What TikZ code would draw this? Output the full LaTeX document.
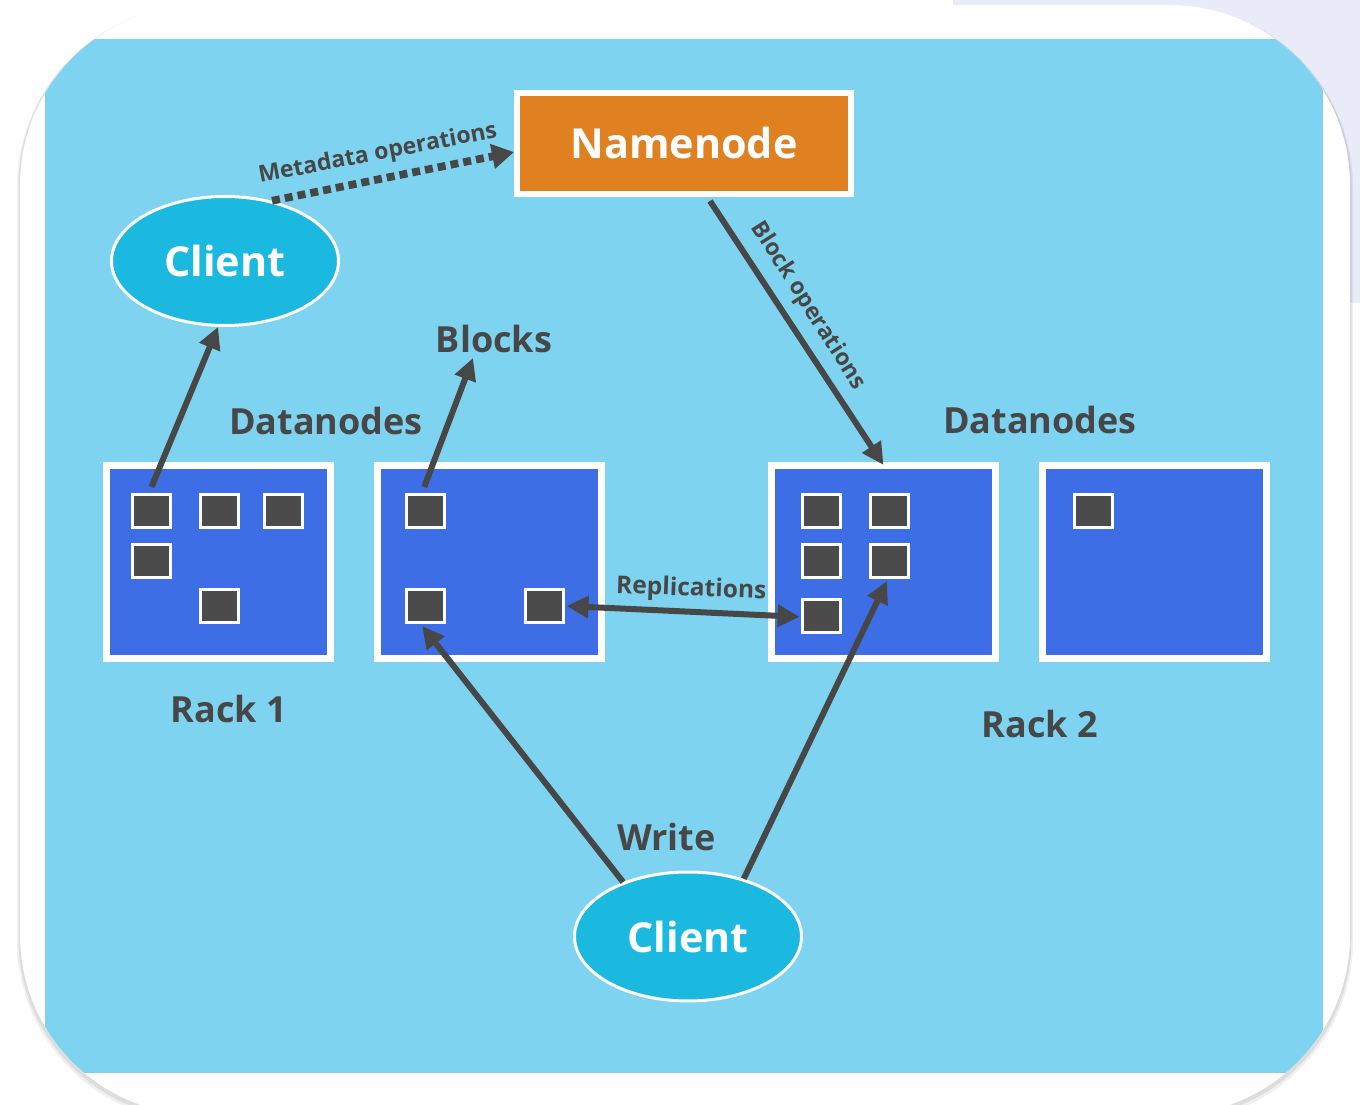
\documentclass[tikz,border=0pt]{standalone}
\usepackage{fontspec}
\setmainfont{Open Sans}
\usetikzlibrary{arrows.meta,shapes.geometric}
\definecolor{bgblue}{HTML}{7ED4F0}
\definecolor{dnblue}{HTML}{3D6EE6}
\definecolor{nnorange}{HTML}{DF8120}
\definecolor{clblue}{HTML}{1BB9E0}
\definecolor{blkgray}{HTML}{4B4B4B}
\definecolor{ink}{HTML}{474747}
\definecolor{lav}{HTML}{EAEBF8}
\begin{document}
\begin{tikzpicture}[x=0.75pt,y=-0.75pt,
  dnbox/.style={draw=white, line width=5.25pt, fill=dnblue, minimum width=168pt, minimum height=144.75pt, inner sep=0pt},
  blockbox/.style={draw=white, line width=2.25pt, fill=blkgray, minimum width=28.5pt, minimum height=24.75pt, inner sep=0pt},
  client/.style={ellipse, draw=white, line width=2.25pt, fill=clblue, minimum width=170.25pt, minimum height=96.75pt, inner sep=0pt, text=white, font=\fontsize{31}{31}\selectfont\bfseries},
  namebox/.style={draw=white, line width=4.5pt, fill=nnorange, minimum width=250.5pt, minimum height=75.75pt, inner sep=0pt, text=white, font=\fontsize{31}{31}\selectfont\bfseries},
  title/.style={text=ink, font=\fontsize{27}{27}\selectfont\bfseries, inner sep=0pt},
  small/.style={text=ink, font=\fontsize{17.3}{17.3}\selectfont\bfseries, inner sep=0pt},
  conn/.style={draw=ink, line width=4.5pt, -{Triangle[length=16.5pt,width=16pt]}},
  dblconn/.style={draw=ink, line width=4.5pt, {Triangle[length=16.5pt,width=16pt]}-{Triangle[length=16.5pt,width=16pt]}},
  dotconn/.style={draw=ink, line width=5.8pt, dash pattern=on 6pt off 3.75pt, -{Triangle[length=16.5pt,width=18pt]}},
]
\useasboundingbox (0,0) rectangle (1360,1105);
% page background
\fill[white] (0,0) rectangle (1360,1105);
\fill[lav] (953,0) rectangle (1360,303);
% card with soft shadow
\fill[black, opacity=0.06, rounded corners=136pt] (17,6) rectangle (1353,1122);
\fill[black, opacity=0.08, rounded corners=135pt] (18.5,5.5) rectangle (1351.5,1119);
\fill[white, rounded corners=135pt] (20,5) rectangle (1350,1115);
\begin{scope}
  \clip[rounded corners=135pt] (20,5) rectangle (1350,1115);
  \fill[bgblue] (45,39) rectangle (1323,1073);
\end{scope}

% namenode and clients
\node[namebox] (nn) at (684,143.5) {Namenode};
\node[client] (cl1) at (225,261) {Client};
\node[client] (cl2) at (688,936.5) {Client};

% datanodes
\node[dnbox] (dn1) at (218.5,562) {};
\node[dnbox] (dn2) at (489,562) {};
\node[dnbox] (dn3) at (883.5,561.5) {};
\node[dnbox] (dn4) at (1154,561.5) {};

% blocks
\node[blockbox] (s1) at (151.5,511) {};
\node[blockbox] (s2) at (219,511) {};
\node[blockbox] (s3) at (283,511) {};
\node[blockbox] (s4) at (151.5,561) {};
\node[blockbox] (s5) at (219,606) {};
\node[blockbox] (b1) at (425.5,511) {};
\node[blockbox] (b2) at (425.5,606) {};
\node[blockbox] (b3) at (544.5,606) {};
\node[blockbox] (c1) at (821.5,511) {};
\node[blockbox] (c2) at (889,511) {};
\node[blockbox] (c3) at (821.5,561) {};
\node[blockbox] (c4) at (889,561) {};
\node[blockbox] (c5) at (821.5,615.5) {};
\node[blockbox] (d1) at (1093.5,511) {};

% titles
\node[title, anchor=base] (blocks) at (494,353) {Blocks};
\node[title, anchor=base] (dnl) at (326,435) {Datanodes};
\node[title, anchor=base] (dnr) at (1040,434) {Datanodes};
\node[title, anchor=base] (rack1) at (229,722) {Rack 1};
\node[title, anchor=base] (rack2) at (1040,737) {Rack 2};
\node[title, anchor=base] (write) at (666.5,850) {Write};

% small labels
\node[small, anchor=base, rotate=10.8] (meta) at (379,160) {Metadata operations};
\node[small, rotate=-57.4] (blkops) at (808,306) {Block operations};
\node[small, anchor=base, rotate=-2, font=\fontsize{18.4}{18.4}\selectfont\bfseries] (repl) at (691,596) {Replications};

\coordinate (blkpt) at (473,358);

% connectors
\draw[dotconn] (cl1.52) -- ([yshift=-6.4pt]nn.west);
\draw[conn] ([yshift=4.5pt]s1.north) -- (cl1.-96);
\draw[conn] ([yshift=4.5pt,xshift=-1pt]b1.north) -- (blkpt);
\draw[conn] ([xshift=19.5pt,yshift=-3pt]nn.south) -- ([yshift=-2.6pt]dn3.north);
\draw[dblconn] ([xshift=1.1pt]b3.east) -- ([xshift=-1pt,yshift=-1pt]c5.west);
\draw[conn] (cl2.140) -- ([xshift=-2.5pt,yshift=-1.5pt]b2.south);
\draw[conn] (cl2.46) -- ([xshift=-1.5pt,yshift=-1.5pt]c4.south);
\end{tikzpicture}
\end{document}
